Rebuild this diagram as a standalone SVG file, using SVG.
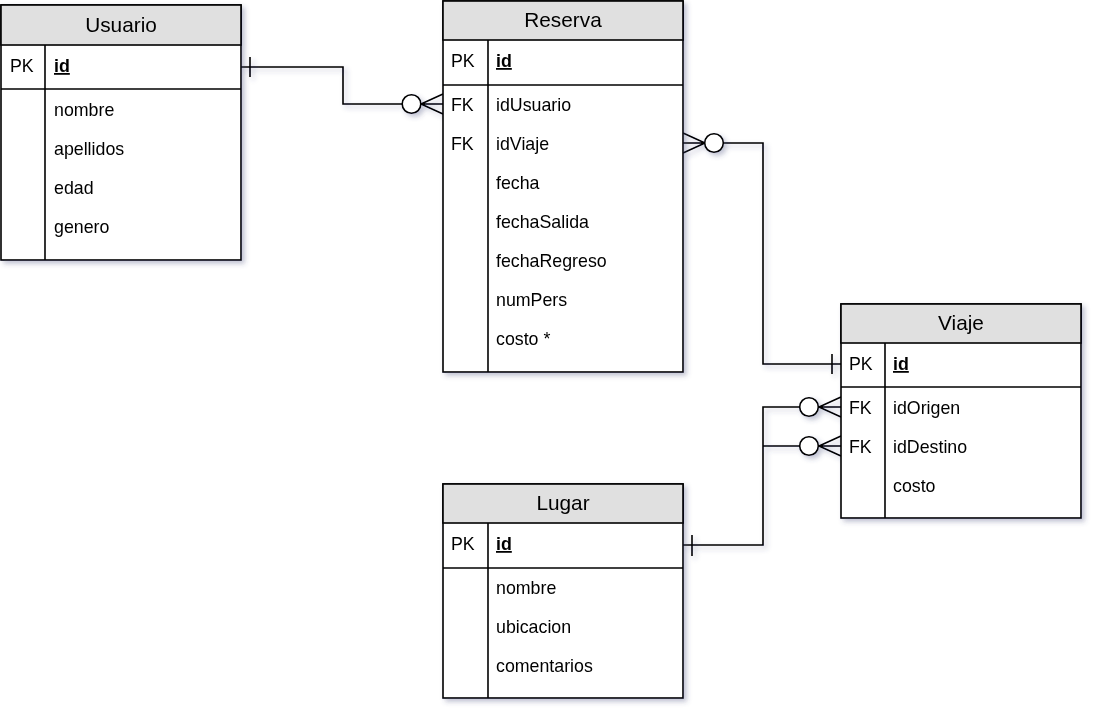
<svg xmlns="http://www.w3.org/2000/svg" width="1098" height="717" viewBox="0 0 1098 717">
  <style>
    .box { fill: #ffffff; stroke: #000000; stroke-width: 1.6; }
    .head { fill: #e0e0e0; stroke: #000000; stroke-width: 1.6; }
    .sep { stroke: #000000; stroke-width: 1.6; fill: none; }
    .title { font-family: "Liberation Sans", Arial, sans-serif; font-size: 20.8px; fill: #000; text-anchor: middle; }
    .t { font-family: "Liberation Sans", Arial, sans-serif; font-size: 17.8px; fill: #000; }
    .key { font-weight: bold; text-decoration: underline; }
    .edge { fill: none; stroke: #000000; stroke-width: 1.6; }
    .ring { fill: #ffffff; stroke: #000000; stroke-width: 1.6; }
  </style>
  <defs>
    <filter id="shadow" x="-10%" y="-10%" width="125%" height="125%">
      <feDropShadow dx="3" dy="3" stdDeviation="2.5" flood-color="#3c4a78" flood-opacity="0.32"/>
    </filter>
  </defs>
  <rect width="1098" height="717" fill="#ffffff"/>

  <!-- relationships -->
  <g id="connectors" filter="url(#shadow)">
    <!-- Usuario.id 1 — 0..n Reserva.idUsuario -->
    <polyline class="edge" points="241,67 343,67 343,104 402,104"/>
    <line class="edge" x1="250" y1="57" x2="250" y2="77"/>
    <path class="edge" d="M443,94 L421,104 L443,114 M421,104 L443,104"/>
    <circle class="ring" cx="411.5" cy="104" r="9.3"/>

    <!-- Reserva.idViaje 0..n — 1 Viaje.id -->
    <polyline class="edge" points="723,143 763,143 763,364 841,364"/>
    <line class="edge" x1="832" y1="354" x2="832" y2="374"/>
    <path class="edge" d="M683,133 L705,143 L683,153 M683,143 L705,143"/>
    <circle class="ring" cx="714" cy="143" r="9.3"/>

    <!-- Lugar.id 1 — 0..n Viaje.idOrigen / Viaje.idDestino -->
    <polyline class="edge" points="683,545 763,545 763,407 800,407"/>
    <line class="edge" x1="763" y1="446" x2="800" y2="446"/>
    <line class="edge" x1="692" y1="535" x2="692" y2="556"/>
    <path class="edge" d="M841,397 L819,407 L841,417 M819,407 L841,407"/>
    <path class="edge" d="M841,436 L819,446 L841,456 M819,446 L841,446"/>
    <circle class="ring" cx="809" cy="407" r="9.3"/>
    <circle class="ring" cx="809" cy="446" r="9.3"/>
  </g>

  <!-- Usuario -->
  <g id="usuario" filter="url(#shadow)">
    <rect class="box" x="1" y="5" width="240" height="255"/>
    <rect class="head" x="1" y="5" width="240" height="40"/>
    <line class="sep" x1="1" y1="89" x2="241" y2="89"/>
    <line class="sep" x1="45" y1="45" x2="45" y2="260"/>
    <text class="title" x="121" y="32">Usuario</text>
    <text class="t" x="10" y="72">PK</text>
    <text class="t key" x="54" y="72">id</text>
    <text class="t" x="54" y="116">nombre</text>
    <text class="t" x="54" y="155">apellidos</text>
    <text class="t" x="54" y="194">edad</text>
    <text class="t" x="54" y="233">genero</text>
  </g>

  <!-- Reserva -->
  <g id="reserva" filter="url(#shadow)">
    <rect class="box" x="443" y="1" width="240" height="371"/>
    <rect class="head" x="443" y="1" width="240" height="39"/>
    <line class="sep" x1="443" y1="85" x2="683" y2="85"/>
    <line class="sep" x1="488" y1="40" x2="488" y2="372"/>
    <text class="title" x="563" y="27">Reserva</text>
    <text class="t" x="451" y="67">PK</text>
    <text class="t key" x="496" y="67">id</text>
    <text class="t" x="451" y="111">FK</text>
    <text class="t" x="496" y="111">idUsuario</text>
    <text class="t" x="451" y="150">FK</text>
    <text class="t" x="496" y="150">idViaje</text>
    <text class="t" x="496" y="189">fecha</text>
    <text class="t" x="496" y="228">fechaSalida</text>
    <text class="t" x="496" y="267">fechaRegreso</text>
    <text class="t" x="496" y="306">numPers</text>
    <text class="t" x="496" y="345">costo *</text>
  </g>

  <!-- Viaje -->
  <g id="viaje" filter="url(#shadow)">
    <rect class="box" x="841" y="304" width="240" height="214"/>
    <rect class="head" x="841" y="304" width="240" height="39"/>
    <line class="sep" x1="841" y1="387" x2="1081" y2="387"/>
    <line class="sep" x1="885" y1="343" x2="885" y2="518"/>
    <text class="title" x="961" y="330">Viaje</text>
    <text class="t" x="849" y="370">PK</text>
    <text class="t key" x="893" y="370">id</text>
    <text class="t" x="849" y="414">FK</text>
    <text class="t" x="893" y="414">idOrigen</text>
    <text class="t" x="849" y="453">FK</text>
    <text class="t" x="893" y="453">idDestino</text>
    <text class="t" x="893" y="492">costo</text>
  </g>

  <!-- Lugar -->
  <g id="lugar" filter="url(#shadow)">
    <rect class="box" x="443" y="484" width="240" height="214"/>
    <rect class="head" x="443" y="484" width="240" height="39"/>
    <line class="sep" x1="443" y1="568" x2="683" y2="568"/>
    <line class="sep" x1="488" y1="523" x2="488" y2="698"/>
    <text class="title" x="563" y="510">Lugar</text>
    <text class="t" x="451" y="550">PK</text>
    <text class="t key" x="496" y="550">id</text>
    <text class="t" x="496" y="594">nombre</text>
    <text class="t" x="496" y="633">ubicacion</text>
    <text class="t" x="496" y="672">comentarios</text>
  </g>
</svg>
